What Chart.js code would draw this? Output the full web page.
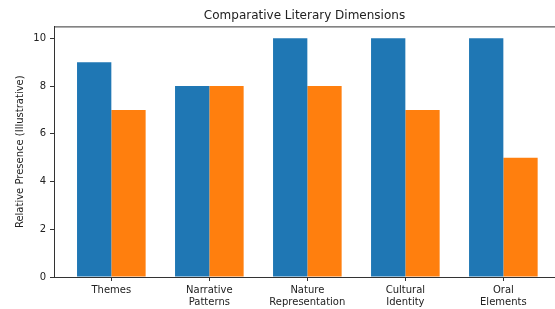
<!DOCTYPE html>
<html>
<head>
<meta charset="utf-8">
<script src="https://cdn.jsdelivr.net/npm/chart.js@4"></script>
<style>
  html, body { margin: 0; padding: 0; background: #fff; overflow: hidden; }
  #wrap { width: 555px; height: 309px; overflow: hidden; }
</style>
</head>
<body>
<div id="wrap"><canvas id="chart" width="555" height="309"></canvas></div>
<script>
const categories = [
  ["Themes"],
  ["Narrative", "Patterns"],
  ["Nature", "Representation"],
  ["Cultural", "Identity"],
  ["Oral", "Elements"]
];
const seriesA = [9, 8, 10, 10, 10];
const seriesB = [7, 8, 8, 7, 5];
const yTicks = [0, 2, 4, 6, 8, 10];

const FONT = "'DejaVu Sans', sans-serif";

// top spine only; the right one falls outside the picture
const frame = {
  id: "frame",
  afterDatasetsDraw(chart) {
    const a = chart.chartArea;
    const ctx = chart.ctx;
    ctx.save();
    ctx.strokeStyle = "#333";
    ctx.lineWidth = 1;
    ctx.beginPath();
    ctx.moveTo(a.left, a.top + 0.5);
    ctx.lineTo(a.right, a.top + 0.5);
    ctx.stroke();
    ctx.restore();
  }
};

function toPoints(values) {
  return values.map((v, i) => ({ x: i, y: v }));
}

new Chart(document.getElementById("chart"), {
  type: "bar",
  data: {
    datasets: [
      { label: "A", data: toPoints(seriesA), backgroundColor: "#1f77b4", borderWidth: 0 },
      { label: "B", data: toPoints(seriesB), backgroundColor: "#ff7f0e", borderWidth: 0 }
    ]
  },
  options: {
    responsive: false,
    animation: false,
    categoryPercentage: 0.7,
    barPercentage: 1.0,
    layout: { padding: 0 },
    plugins: {
      legend: { display: false },
      tooltip: { enabled: false },
      title: {
        display: true,
        fullSize: false,
        text: "Comparative Literary Dimensions",
        color: "#222",
        font: { family: FONT, size: 12, weight: "normal" },
        padding: { top: 9, bottom: 3 }
      }
    },
    scales: {
      x: {
        type: "linear",
        min: -0.585,
        max: 4.527,
        offset: false,
        afterFit: s => { s.height = 32; },
        afterBuildTicks: s => { s.ticks = categories.map((c, i) => ({ value: i })); },
        grid: { display: true, drawOnChartArea: false, offset: false, tickLength: 4, color: "#333" },
        border: { display: true, color: "#333", width: 1 },
        ticks: {
          color: "#222",
          padding: 3,
          maxRotation: 0,
          font: { family: FONT, size: 10, lineHeight: 1.25 },
          callback: v => categories[v]
        }
      },
      y: {
        min: 0,
        max: 10.5,
        afterFit: s => { s.width = 54; },
        afterBuildTicks: s => { s.ticks = yTicks.map(v => ({ value: v })); },
        grid: { display: true, drawOnChartArea: false, tickLength: 4, color: "#333" },
        border: { display: true, color: "#333", width: 1 },
        title: {
          display: true,
          text: "Relative Presence (Illustrative)",
          color: "#222",
          font: { family: FONT, size: 10 },
          padding: { top: 14, bottom: 0 }
        },
        ticks: {
          color: "#222",
          padding: 4,
          font: { family: FONT, size: 10 }
        }
      }
    }
  },
  plugins: [frame]
});
</script>
</body>
</html>
